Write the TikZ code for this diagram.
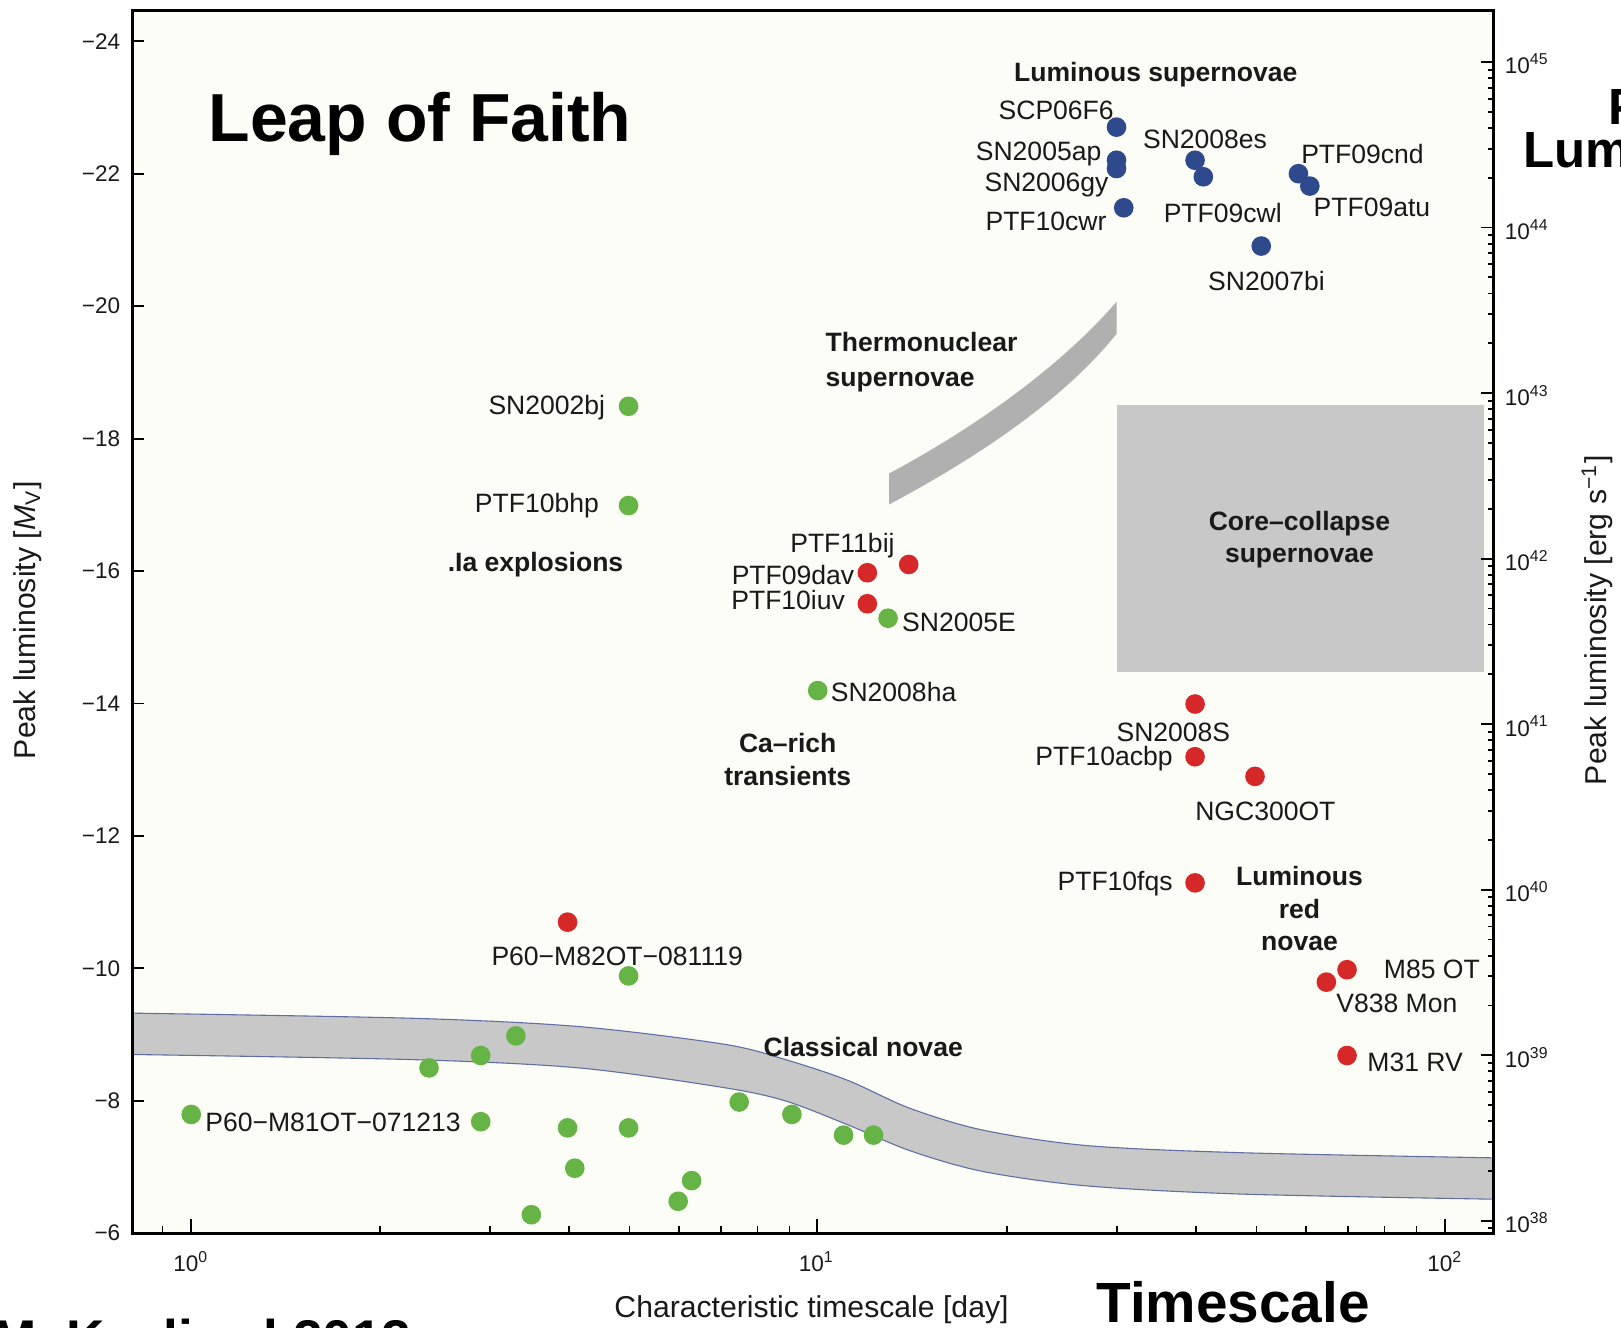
\documentclass[tikz,border=0pt]{standalone}
\usepackage{fontspec}
\setmainfont{Liberation Sans}
\usetikzlibrary{positioning}

\definecolor{snblue}{RGB}{46,74,140}
\definecolor{snred}{RGB}{214,40,40}
\definecolor{sngreen}{RGB}{102,180,70}
\definecolor{bandgray}{RGB}{200,200,200}
\definecolor{tngray}{RGB}{176,176,176}
\definecolor{plotbg}{RGB}{253,253,247}
\definecolor{bandedge}{RGB}{95,110,165}
\definecolor{inktext}{RGB}{25,25,25}

\begin{document}
\begin{tikzpicture}
	[
		x=0.01cm, y=-0.01cm,
		sndot/.style={circle, inner sep=0pt, minimum size=0.19cm},
		bluedot/.style={sndot, fill=snblue},
		reddot/.style={sndot, fill=snred},
		greendot/.style={sndot, fill=sngreen},
		objlbl/.style={inner sep=0pt, text=inktext, font=\fontsize{7.3}{8}\selectfont},
		grplbl/.style={inner sep=0pt, text=inktext, align=center, font=\bfseries\fontsize{7.3}{9}\selectfont},
		ticklbl/.style={inner sep=0pt, text=inktext, font=\fontsize{6.2}{7}\selectfont},
		axlbl/.style={inner sep=0pt, text=inktext, font=\fontsize{8.3}{9}\selectfont},
		slidelbl/.style={inner sep=0pt, font=\bfseries\fontsize{15.6}{16}\selectfont}
	]

	\useasboundingbox (0,0) rectangle (1568,1284);

	% plot area
	\fill[plotbg] (128,10) rectangle (1445,1193);

	% regions
	\def\novatop{(128,980) (400,985) (560,993) (700,1010) (760,1025) (820,1045) (880,1072) (950,1093) (1050,1108) (1200,1115) (1445,1120)}
	\def\novabot{(128,1020) (400,1025) (560,1033) (700,1052) (760,1065) (820,1088) (880,1113) (950,1133) (1050,1147) (1200,1155) (1445,1160)}
	\fill[bandgray] (1080,392) rectangle (1435,650);
	\fill[tngray] (860,458) .. controls (950,410) and (1030,350) .. (1080,292)
		-- (1080,323) .. controls (1030,385) and (950,440) .. (860,488) -- cycle;
	\fill[bandgray]
		plot[smooth] coordinates {\novatop}
		-- plot[smooth] coordinates {(1445,1160) (1200,1155) (1050,1147) (950,1133) (880,1113) (820,1088) (760,1065) (700,1052) (560,1033) (400,1025) (128,1020)}
		-- cycle;
	\draw[bandedge, line width=0.3pt] plot[smooth] coordinates {\novatop};
	\draw[bandedge, line width=0.3pt] plot[smooth] coordinates {\novabot};

	% luminous supernovae
	\node[bluedot] (scp) at (1080,123) {};
	\node[bluedot] (ap) at (1080,155) {};
	\node[bluedot] (gy) at (1080,163) {};
	\node[bluedot] (cwr) at (1087,201) {};
	\node[bluedot] (es) at (1156,155) {};
	\node[bluedot] (cwl) at (1164,171) {};
	\node[bluedot] (cnd) at (1256,168) {};
	\node[bluedot] (atu) at (1267,180) {};
	\node[bluedot] (bi) at (1220,238) {};

	\node[objlbl, anchor=east] (scpL) at (1078,107) {SCP06F6};
	\node[objlbl, anchor=east] (apL) at (1066,149) {SN2005ap};
	\node[objlbl, anchor=east] (gyL) at (1073,179) {SN2006gy};
	\node[objlbl, anchor=east] (cwrL) at (1071,214) {PTF10cwr};
	\node[objlbl, anchor=west] (esL) at (1105,135) {SN2008es};
	\node[objlbl, anchor=west] (cwlL) at (1125,206) {PTF09cwl};
	\node[objlbl, anchor=west] (cndL) at (1258,149) {PTF09cnd};
	\node[objlbl, anchor=west] (atuL) at (1270,201) {PTF09atu};
	\node[objlbl, anchor=west] (biL) at (1168,272) {SN2007bi};

	% red transients
	\node[reddot] (bij) at (879,546) {};
	\node[reddot] (dav) at (839,554) {};
	\node[reddot] (iuv) at (839,584) {};
	\node[reddot] (s08) at (1156,681) {};
	\node[reddot] (acbp) at (1156,732) {};
	\node[reddot] (ngc) at (1214,751) {};
	\node[reddot] (fqs) at (1156,854) {};
	\node[reddot] (m85) at (1303,938) {};
	\node[reddot] (v838) at (1283,950) {};
	\node[reddot] (m31) at (1303,1021) {};
	\node[reddot] (m82) at (549,892) {};

	\node[objlbl, anchor=east] (bijL) at (866,528) {PTF11bij};
	\node[objlbl, anchor=east] (davL) at (827,556) {PTF09dav};
	\node[objlbl, anchor=east] (iuvL) at (818,580) {PTF10iuv};
	\node[objlbl] (s08L) at (1135,708) {SN2008S};
	\node[objlbl, anchor=east] (acbpL) at (1135,734) {PTF10acbp};
	\node[objlbl] (ngcL) at (1224,785) {NGC300OT};
	\node[objlbl, anchor=east] (fqsL) at (1135,855) {PTF10fqs};
	\node[objlbl, anchor=west] (m85L) at (1338,938) {M85 OT};
	\node[objlbl, anchor=west] (v838L) at (1292,971) {V838 Mon};
	\node[objlbl, anchor=west] (m31L) at (1322,1028) {M31 RV};
	\node[objlbl] (m82L) at (597,925) {P60−M82OT−081119};

	% green transients
	\node[greendot] (bj) at (608,393) {};
	\node[greendot] (bhp) at (608,489) {};
	\node[greendot] (e05) at (859,598) {};
	\node[greendot] (ha) at (791,668) {};
	\node[greendot] (m82g) at (608,944) {};
	\node[greendot] (m81) at (185,1078) {};
	\foreach \px/\py [count=\i] in {415/1033, 465/1021, 499/1002, 465/1085, 549/1091, 608/1091, 556/1130, 514/1175, 669/1142, 656/1162, 715/1066, 766/1078, 816/1098, 845/1098}
		\node[greendot] (nova\i) at (\px,\py) {};

	\node[objlbl, anchor=east] (bjL) at (586,394) {SN2002bj};
	\node[objlbl, anchor=east] (bhpL) at (580,489) {PTF10bhp};
	\node[objlbl, anchor=west] (e05L) at (872,602) {SN2005E};
	\node[objlbl, anchor=west] (haL) at (803,669) {SN2008ha};
	\node[objlbl, anchor=west] (m81L) at (198,1086) {P60−M81OT−071213};

	% classes
	\node[grplbl] (lumsn) at (1118,72) {Luminous supernovae};
	\node[grplbl, align=left, anchor=west, font=\bfseries\fontsize{7.3}{9.7}\selectfont] (thermo) at (798,350) {Thermonuclear\\supernovae};
	\node[grplbl] (iaexp) at (518,546) {.Ia explosions};
	\node[grplbl] (carich) at (762,735) {Ca–rich\\transients};
	\node[grplbl] (corecc) at (1257,522) {Core–collapse\\supernovae};
	\node[grplbl] (clnova) at (835,1013) {Classical novae};
	\node[grplbl] (lrn) at (1257,879) {Luminous\\red\\novae};

	% axes
	\begin{scope}
		\clip (128,10) rectangle (1445,1193);
		\foreach \d in {-1,0,1}
			\foreach \k in {2,...,9}
				\draw[line width=0.5pt] ({185+606.5*(\d+log10(\k))},1193) -- ++(0,-7);
		\foreach \n in {38,...,45}
			\foreach \k in {2,...,9}
				\draw[line width=0.5pt] (1445,{60+(45-\n)*160.125+160.125*(1-log10(\k))}) -- ++(-6,0);
	\end{scope}
	\foreach \m in {-24,-22,...,-6}
	{
		\draw[line width=0.5pt] (128,{40+64.05*(\m+24)}) -- ++(11,0);
		\node[ticklbl, anchor=east] (yt\m) at (117,{40+64.05*(\m+24)}) {\ifnum\m<0 −\fi\the\numexpr-\m\relax};
	}
	\foreach \e [count=\i from 0] in {185,790,1398}
	{
		\draw[line width=0.5pt] (\e,1193) -- ++(0,-14);
		\node[ticklbl, anchor=base] (xt\i) at (\e,1230) {10\textsuperscript{\i}};
	}
	\foreach \n in {38,...,45}
	{
		\draw[line width=0.5pt] (1445,{60+(45-\n)*160.125}) -- ++(-12,0);
		\node[ticklbl, anchor=west] (rt\n) at (1455,{62+(45-\n)*160.125}) {10\textsuperscript{\n}};
	}
	\draw[line width=0.9pt] (128,10) rectangle (1445,1193);

	\node[axlbl, rotate=90] (ylab) at (27,600) {Peak luminosity [\textit{M}\textsubscript{V}]};
	\node[axlbl, rotate=90] (rlab) at (1545,600) {Peak luminosity [erg s\textsuperscript{−1}]};
	\node[axlbl] (xlab) at (785,1267) {Characteristic timescale [day]};

	% slide annotations
	\node[slidelbl, anchor=base west, font=\bfseries\fontsize{18.7}{19}\selectfont] (leap) at (201,137) {Leap of Faith};
	\node[slidelbl, anchor=base west] (tscale) at (1060,1279) {Timescale};
	\node[slidelbl, anchor=base west, font=\bfseries\fontsize{14}{15}\selectfont] (peak) at (1555,120) {Peak};
	\node[slidelbl, anchor=base west, font=\bfseries\fontsize{14}{15}\selectfont] (lum) at (1473,162) {Luminosity};
	\node[slidelbl, anchor=base west, font=\bfseries\fontsize{14.6}{15}\selectfont] (cite) at (-8,1313) {M. Kasliwal 2012};

\end{tikzpicture}
\end{document}
